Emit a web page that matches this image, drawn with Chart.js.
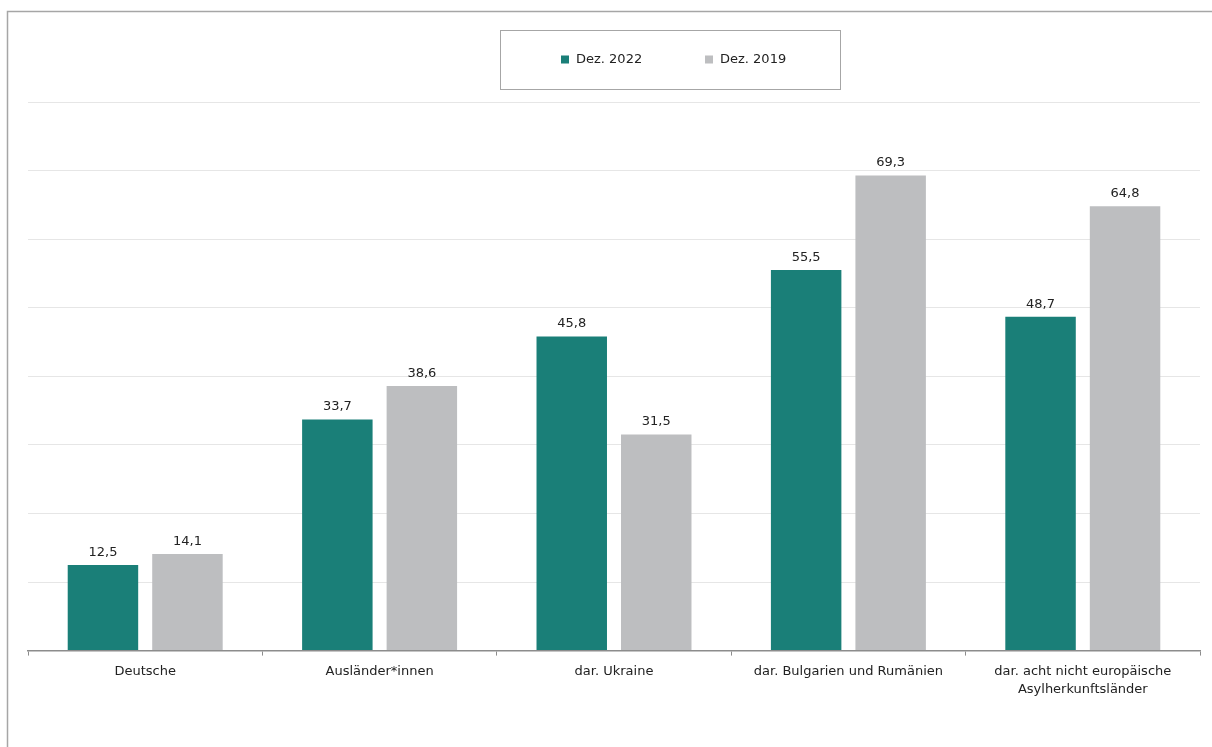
<!DOCTYPE html>
<html>
<head>
<meta charset="utf-8">
<script src="https://cdn.jsdelivr.net/npm/chart.js@4/dist/chart.umd.min.js"></script>
<style>
  html, body { margin: 0; padding: 0; background: #fff; }
  #wrap { position: relative; width: 1212px; height: 747px; }
</style>
</head>
<body>
<div id="wrap"><canvas id="c" width="1212" height="747"></canvas></div>
<script>
const categories = [
  'Deutsche',
  'Ausländer*innen',
  'dar. Ukraine',
  'dar. Bulgarien und Rumänien',
  ['dar. acht nicht europäische', 'Asylherkunftsländer']
];
const seriesNames = ['Dez. 2022', 'Dez. 2019'];
const values2022 = [12.5, 33.7, 45.8, 55.5, 48.7];
const values2019 = [14.1, 38.6, 31.5, 69.3, 64.8];
const colors = ['#1a7f78', '#bdbec0'];

const FONT = '"DejaVu Sans", Verdana, sans-serif';

// Outer frame (top and left edges) behind the chart
const framePlugin = {
  id: 'frame',
  beforeDraw(chart) {
    const ctx = chart.ctx;
    ctx.save();
    ctx.strokeStyle = '#a6a6a6';
    ctx.lineWidth = 1.5;
    ctx.beginPath();
    ctx.moveTo(7.5, 747);
    ctx.lineTo(7.5, 11.5);
    ctx.lineTo(1212, 11.5);
    ctx.stroke();
    ctx.restore();
  }
};

// Boxed legend above the plot
const boxLegendPlugin = {
  id: 'boxLegend',
  afterDraw(chart) {
    const ctx = chart.ctx;
    const x = 500, y = 30, w = 340, h = 59;
    ctx.save();
    ctx.strokeStyle = '#a6a6a6';
    ctx.lineWidth = 1;
    ctx.strokeRect(x + 0.5, y + 0.5, w, h);
    ctx.font = '13px ' + FONT;
    ctx.textBaseline = 'middle';
    const cy = y + h / 2;
    const starts = [561, 705];
    chart.data.datasets.forEach((ds, i) => {
      ctx.fillStyle = ds.backgroundColor;
      ctx.fillRect(starts[i], cy - 4, 8, 8);
      ctx.fillStyle = '#222';
      ctx.fillText(ds.label, starts[i] + 15, cy);
    });
    ctx.restore();
  }
};

// Value labels above each bar, German decimal comma
const valueLabelPlugin = {
  id: 'valueLabels',
  afterDatasetsDraw(chart) {
    const ctx = chart.ctx;
    ctx.save();
    ctx.font = '13px ' + FONT;
    ctx.fillStyle = '#222';
    ctx.textAlign = 'center';
    ctx.textBaseline = 'bottom';
    chart.data.datasets.forEach((ds, di) => {
      const meta = chart.getDatasetMeta(di);
      meta.data.forEach((bar, i) => {
        const txt = ds.data[i].toFixed(1).replace('.', ',');
        ctx.fillText(txt, bar.x, bar.y - 6);
      });
    });
    ctx.restore();
  }
};

new Chart(document.getElementById('c'), {
  type: 'bar',
  data: {
    labels: categories,
    datasets: [
      { label: seriesNames[0], data: values2022, backgroundColor: colors[0] },
      { label: seriesNames[1], data: values2019, backgroundColor: colors[1] }
    ]
  },
  options: {
    responsive: false,
    animation: false,
    devicePixelRatio: 1,
    categoryPercentage: 0.721,
    barPercentage: 0.834,
    layout: { padding: { left: 28, right: 12, top: 102, bottom: 41 } },
    plugins: {
      legend: { display: false },
      tooltip: { enabled: false }
    },
    scales: {
      x: {
        grid: {
          drawOnChartArea: false,
          drawTicks: true,
          tickLength: 5,
          color: '#8c8c8c'
        },
        border: { display: true, color: '#8c8c8c', width: 1.5 },
        ticks: {
          color: '#222',
          font: { family: FONT, size: 13, lineHeight: 1.4 },
          padding: 7,
          maxRotation: 0,
          autoSkip: false
        }
      },
      y: {
        min: 0,
        max: 80,
        ticks: { display: false, stepSize: 10 },
        grid: { color: '#e6e6e6', drawTicks: false, lineWidth: 1 },
        border: { display: false }
      }
    }
  },
  plugins: [framePlugin, boxLegendPlugin, valueLabelPlugin]
});
</script>
</body>
</html>
